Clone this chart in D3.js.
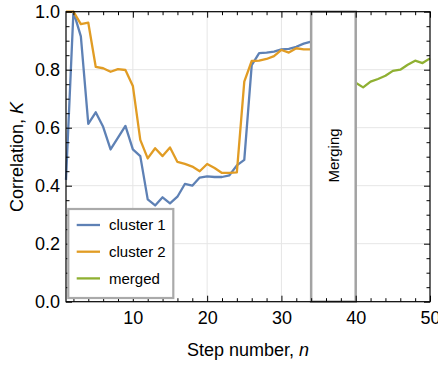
<!DOCTYPE html>
<html>
<head>
<meta charset="utf-8">
<script src="https://cdn.jsdelivr.net/npm/d3@7"></script>
<style>
  body { margin: 0; background: #fff; }
  svg { display: block; font-family: "Liberation Sans", Arial, sans-serif; }
</style>
</head>
<body>
<svg width="438" height="366"></svg>
<script>
// data
const steps1 = [1,2,3,4,5,6,7,8,9,10,11,12,13,14,15,16,17,18,19,20,21,22,23,24,25,26,27,28,29,30,31,32,33,34];
const cluster1 = [0.42,1.0,0.915,0.613,0.653,0.603,0.525,0.566,0.606,0.525,0.502,0.353,0.332,0.36,0.339,0.362,0.406,0.40,0.428,0.432,0.43,0.43,0.436,0.47,0.489,0.816,0.857,0.859,0.862,0.87,0.872,0.879,0.89,0.897];
const cluster2 = [1.0,1.0,0.957,0.962,0.81,0.805,0.793,0.802,0.799,0.744,0.558,0.494,0.529,0.502,0.532,0.482,0.475,0.466,0.45,0.475,0.461,0.444,0.444,0.446,0.759,0.83,0.831,0.837,0.847,0.868,0.859,0.874,0.87,0.87];
const steps2 = [40,41,42,43,44,45,46,47,48,49,50];
const merged = [0.755,0.739,0.759,0.768,0.779,0.796,0.80,0.817,0.831,0.823,0.839];
const mergeWindow = [34, 40];
const xTicks = [10,20,30,40,50];
const xMinor = [2,4,6,8,12,14,16,18,22,24,26,28,32,34,36,38,42,44,46,48];
const yTicks = [0,0.2,0.4,0.6,0.8,1.0];
const yMinor = [0.05,0.1,0.15,0.25,0.3,0.35,0.45,0.5,0.55,0.65,0.7,0.75,0.85,0.9,0.95];
const seriesNames = ["cluster 1", "cluster 2", "merged"];

const margin = {top: 11.7, right: 8, bottom: 64.3, left: 66},
    width = 438 - margin.left - margin.right,
    height = 366 - margin.top - margin.bottom;

const colors = ["#5E81B5", "#E19C24", "#8FB032"];

const x = d3.scaleLinear().domain([1, 50]).range([0, width]);
const y = d3.scaleLinear().domain([0, 1]).range([height, 0]);

const svg = d3.select("svg")
  .append("g")
  .attr("transform", `translate(${margin.left},${margin.top})`);

// grid
svg.append("g")
  .selectAll("line")
  .data(xTicks.slice(0, 4))
  .enter().append("line")
  .attr("x1", d => x(d)).attr("x2", d => x(d))
  .attr("y1", 0).attr("y2", height)
  .attr("stroke", "#e6e6e6");
svg.append("g")
  .selectAll("line")
  .data(yTicks.slice(1, 5))
  .enter().append("line")
  .attr("x1", 0).attr("x2", width)
  .attr("y1", d => y(d)).attr("y2", d => y(d))
  .attr("stroke", "#e6e6e6");

const line = d3.line()
  .x(d => x(d[0]))
  .y(d => y(d[1]));

const series = [
  steps1.map((s, i) => [s, cluster1[i]]),
  steps1.map((s, i) => [s, cluster2[i]]),
  steps2.map((s, i) => [s, merged[i]])
];

svg.selectAll(".series")
  .data(series)
  .enter().append("path")
  .attr("class", "series")
  .attr("fill", "none")
  .attr("stroke", (d, i) => colors[i])
  .attr("stroke-width", 2.3)
  .attr("stroke-linejoin", "round")
  .attr("d", line);

// merging window
svg.append("rect")
  .attr("x", x(mergeWindow[0]))
  .attr("y", 0)
  .attr("width", x(mergeWindow[1]) - x(mergeWindow[0]))
  .attr("height", height)
  .attr("fill", "#fff")
  .attr("stroke", "#a3a3a3")
  .attr("stroke-width", 2.5);

svg.append("text")
  .attr("transform", `translate(${(x(mergeWindow[0]) + x(mergeWindow[1])) / 2},${143.8}) rotate(-90)`)
  .attr("text-anchor", "middle")
  .attr("dy", "0.35em")
  .attr("font-size", 15)
  .text("Merging");

// axes, ticks inward on all four sides
function styleAxis(g) {
  g.select(".domain").remove();
  g.selectAll(".tick line").attr("stroke", "#000");
  g.selectAll("text").attr("font-size", 18).attr("fill", "#000").attr("font-family", "Liberation Sans, Arial, sans-serif");
}

svg.append("g")
  .attr("transform", `translate(0,${height})`)
  .call(d3.axisBottom(x).tickValues(xTicks).tickSize(-6).tickPadding(9.5).tickFormat(d3.format("d")))
  .call(styleAxis);
svg.append("g")
  .attr("transform", `translate(0,${height})`)
  .call(d3.axisBottom(x).tickValues(xMinor).tickSize(-3.5).tickFormat(""))
  .call(styleAxis);
svg.append("g")
  .call(d3.axisTop(x).tickValues(xTicks).tickSize(-6).tickFormat(""))
  .call(styleAxis);
svg.append("g")
  .call(d3.axisTop(x).tickValues(xMinor).tickSize(-3.5).tickFormat(""))
  .call(styleAxis);

svg.append("g")
  .call(d3.axisLeft(y).tickValues(yTicks).tickSize(-6).tickPadding(6).tickFormat(d3.format(".1f")))
  .call(styleAxis)
  .call(g => g.selectAll(".tick text").attr("x", -6));
svg.append("g")
  .call(d3.axisLeft(y).tickValues(yMinor).tickSize(-3.5).tickFormat(""))
  .call(styleAxis);
svg.append("g")
  .attr("transform", `translate(${width},0)`)
  .call(d3.axisRight(y).tickValues(yTicks).tickSize(-6).tickFormat(""))
  .call(styleAxis);
svg.append("g")
  .attr("transform", `translate(${width},0)`)
  .call(d3.axisRight(y).tickValues(yMinor).tickSize(-3.5).tickFormat(""))
  .call(styleAxis);

// frame
svg.append("rect")
  .attr("width", width)
  .attr("height", height)
  .attr("fill", "none")
  .attr("stroke", "#000")
  .attr("stroke-width", 1.2);

// legend
const legend = svg.append("g").attr("transform", "translate(2.3,197.3)");
legend.append("rect")
  .attr("width", 105)
  .attr("height", 89)
  .attr("fill", "#fff")
  .attr("stroke", "#aaa")
  .attr("stroke-width", 2.2);
const item = legend.selectAll(".item")
  .data(seriesNames)
  .enter().append("g")
  .attr("class", "item")
  .attr("transform", (d, i) => `translate(0,${16 + i * 26.7})`);
item.append("line")
  .attr("x1", 8.4).attr("x2", 31.7)
  .attr("stroke", (d, i) => colors[i])
  .attr("stroke-width", 2.3);
item.append("text")
  .attr("x", 40.7)
  .attr("dy", "0.35em")
  .attr("font-size", 15)
  .text(d => d);

// axis titles
const xTitle = d3.select("svg").append("text")
  .attr("x", 248)
  .attr("y", 356)
  .attr("text-anchor", "middle")
  .attr("font-size", 18);
xTitle.append("tspan").text("Step number, ");
xTitle.append("tspan").attr("font-style", "italic").text("n");

const yTitle = d3.select("svg").append("text")
  .attr("transform", "translate(23,157) rotate(-90)")
  .attr("text-anchor", "middle")
  .attr("font-size", 18);
yTitle.append("tspan").text("Correlation, ");
yTitle.append("tspan").attr("font-style", "italic").text("K");
</script>
</body>
</html>
